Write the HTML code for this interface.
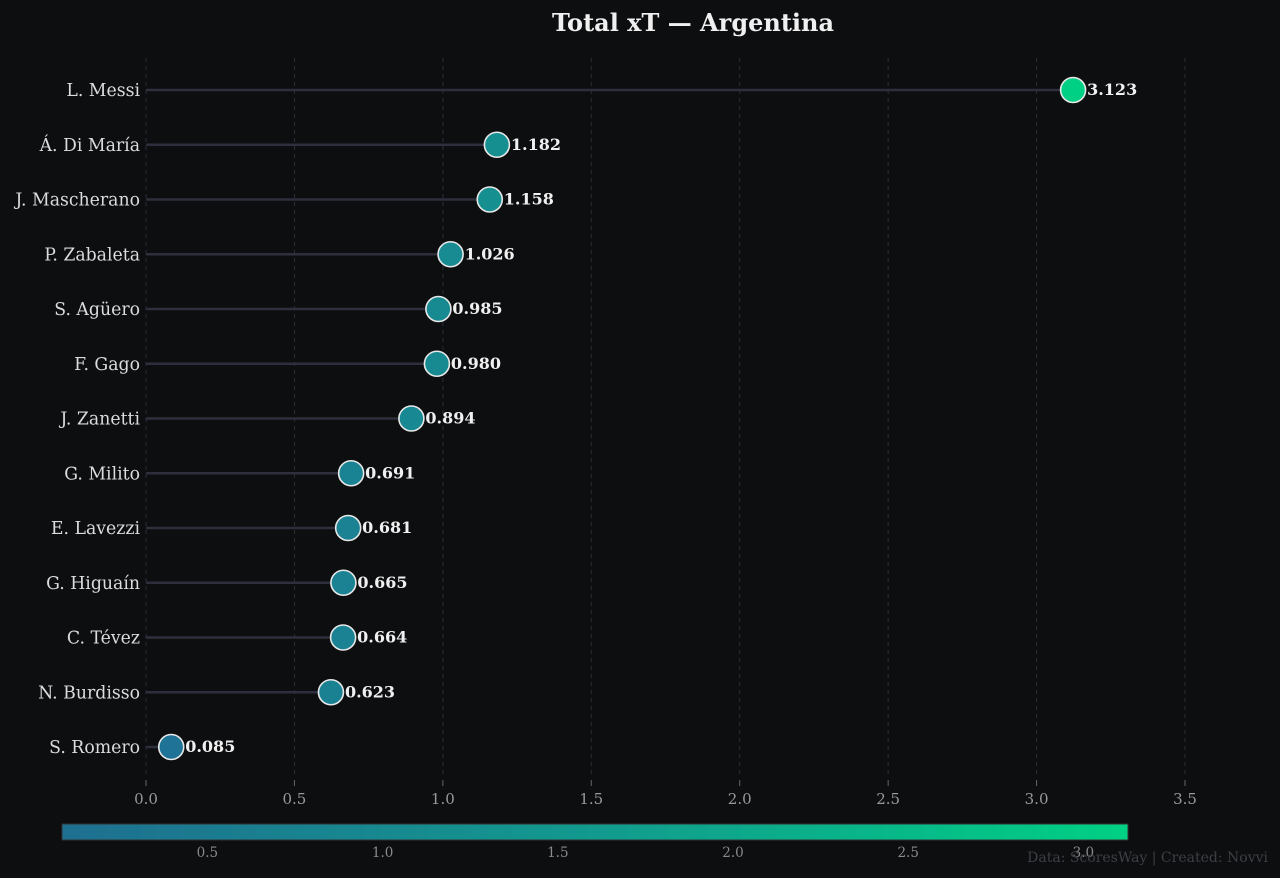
<!DOCTYPE html>
<html><head><meta charset="utf-8"><style>
html,body{margin:0;padding:0;background:#0d0e10;}
svg{display:block;font-family:"DejaVu Serif","Liberation Serif",serif;}
</style></head><body>
<svg width="1280" height="878" viewBox="0 0 1280 878" xmlns="http://www.w3.org/2000/svg">
<defs><linearGradient id="cb" x1="0" x2="1" y1="0" y2="0">
<stop offset="0" stop-color="#1e6f90"/><stop offset="0.5" stop-color="#129a8e"/><stop offset="1" stop-color="#00d084"/></linearGradient></defs>
<rect width="1280" height="878" fill="#0d0e10"/>
<text x="693" y="31" text-anchor="middle" font-size="24" font-weight="bold" fill="#f0f0f0">Total xT — Argentina</text>
<g id="grid" stroke="#2c2e3a" stroke-width="1" stroke-dasharray="4,4"></g>
<g id="rows"></g>
<g id="xt" font-size="15" fill="#9a9a9a" text-anchor="middle"></g>
<rect x="62" y="824" width="1066" height="16" fill="url(#cb)" stroke="#333" stroke-width="1"/>
<g id="ct" font-size="13.5" fill="#8a8a8a" text-anchor="middle"></g>
<text x="1268" y="862" text-anchor="end" font-size="14" fill="#3d3f46">Data: ScoresWay | Created: Novvi</text>
<script>
var ns="http://www.w3.org/2000/svg";
function el(p,t,a,txt){var e=document.createElementNS(ns,t);for(var k in a)e.setAttribute(k,a[k]);if(txt!=null)e.textContent=txt;p.appendChild(e);return e;}
var X=function(v){return 146+v*296.86;};
var g=document.getElementById('grid'),xt=document.getElementById('xt'),ct=document.getElementById('ct'),rows=document.getElementById('rows');
for(var i=0;i<=7;i++){var v=i*0.5,x=X(v);el(g,'line',{x1:x,x2:x,y1:58,y2:778});el(xt,'line',{x1:x,x2:x,y1:780,y2:786,stroke:'#666'});el(xt,'text',{x:x,y:804},v.toFixed(1));}
[0.5,1.0,1.5,2.0,2.5,3.0].forEach(function(v){el(ct,'text',{x:62+(v-0.085)*350.4,y:857},v.toFixed(1));});
var d=[["L. Messi",3.123],["Á. Di María",1.182],["J. Mascherano",1.158],["P. Zabaleta",1.026],["S. Agüero",0.985],["F. Gago",0.980],["J. Zanetti",0.894],["G. Milito",0.691],["E. Lavezzi",0.681],["G. Higuaín",0.665],["C. Tévez",0.664],["N. Burdisso",0.623],["S. Romero",0.085]];
function col(v){var t=(v-0.085)/(3.123-0.085);var a,b,u;if(t<0.5){a=[31,115,150];b=[18,154,142];u=t/0.5;}else{a=[18,154,142];b=[0,208,132];u=(t-0.5)/0.5;}
return 'rgb('+[0,1,2].map(function(i){return Math.round(a[i]+(b[i]-a[i])*u);}).join(',')+')';}
d.forEach(function(r,i){var y=90+i*54.75,x=X(r[1]);
el(rows,'line',{x1:146,x2:x,y1:y,y2:y,stroke:'#2e2f3c','stroke-width':2.5});
el(rows,'text',{x:140,y:y+6,'text-anchor':'end','font-size':17.3,fill:'#dcdcdc'},r[0]);
el(rows,'circle',{cx:x,cy:y,r:12.5,fill:col(r[1]),stroke:'#e8e8e8','stroke-width':1.6});
el(rows,'text',{x:x+14,y:y+5,'font-size':16,'font-weight':'bold',fill:'#f0f0f0'},r[1].toFixed(3));});
</script>
</svg>
</body></html>
